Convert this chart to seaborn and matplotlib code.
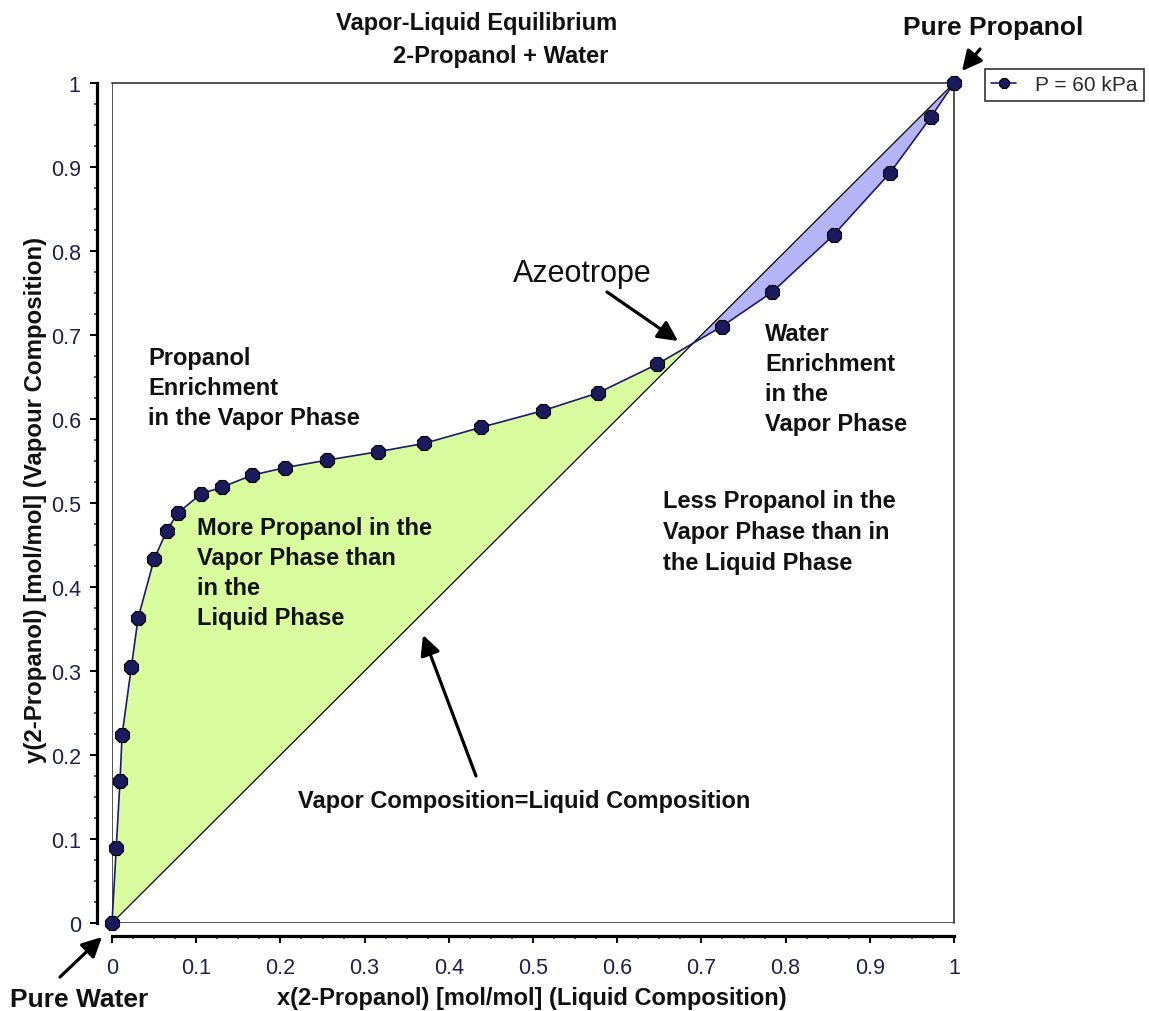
import numpy as np
import pandas as pd
import matplotlib
matplotlib.use("Agg")
import matplotlib.pyplot as plt
import seaborn as sns
from matplotlib.ticker import FixedLocator, FixedFormatter, MultipleLocator

# ---------------- data ----------------
x_liquid = [0.0, 0.005, 0.0095, 0.012, 0.023, 0.031, 0.050, 0.065, 0.078, 0.106,
            0.131, 0.166, 0.205, 0.255, 0.316, 0.371, 0.438, 0.512, 0.577, 0.647,
            0.724, 0.784, 0.857, 0.924, 0.973, 1.0]
y_vapor = [0.0, 0.089, 0.169, 0.224, 0.305, 0.363, 0.433, 0.467, 0.488, 0.511,
           0.519, 0.533, 0.542, 0.551, 0.561, 0.571, 0.590, 0.610, 0.631, 0.665,
           0.710, 0.751, 0.819, 0.893, 0.960, 1.0]
series_label = "P = 60 kPa"
tick_values = [0, 0.1, 0.2, 0.3, 0.4, 0.5, 0.6, 0.7, 0.8, 0.9, 1.0]
tick_labels = ["0", "0.1", "0.2", "0.3", "0.4", "0.5", "0.6", "0.7", "0.8", "0.9", "1"]
title_lines = ["Vapor-Liquid Equilibrium", "2-Propanol + Water"]
x_label = "x(2-Propanol) [mol/mol] (Liquid Composition)"
y_label = "y(2-Propanol) [mol/mol] (Vapour Composition)"

df = pd.DataFrame({"x": x_liquid, "y": y_vapor})

# ---------------- style ----------------
sns.set_theme(style="white")
plt.rcParams["font.family"] = ["Liberation Sans", "DejaVu Sans"]

W, H = 1149, 1012
fig = plt.figure(figsize=(W / 100, H / 100), dpi=100)
fig.patch.set_facecolor("white")


def P(px, py):
    return (px / W, 1 - py / H)


ax = fig.add_axes([112 / W, 1 - 924 / H, (954 - 112) / W, (924 - 84) / H])
ax.set_facecolor("white")

xa = np.array(x_liquid)
ya = np.array(y_vapor)
ax.fill_between(xa, xa, ya, where=ya >= xa, interpolate=True,
                color="#d9fc9e", lw=0, zorder=1)
ax.fill_between(xa, xa, ya, where=ya <= xa, interpolate=True,
                color="#b4b4f6", lw=0, zorder=1)
ax.plot([tick_values[0], tick_values[-1]], [tick_values[0], tick_values[-1]],
        color="black", lw=0.9, zorder=2)

navy = "#1b1b6b"
sns.lineplot(data=df, x="x", y="y", sort=False, estimator=None, ax=ax,
             color=navy, lw=1.2, marker="8", markersize=11,
             markerfacecolor="#1a1a5c", markeredgecolor="black",
             markeredgewidth=0.8, label=series_label, zorder=4, clip_on=False)

ax.set_xlim(0, 1)
ax.set_ylim(0, 1)

# frame box (thin) + offset thick axes
for side in ["top", "right"]:
    ax.spines[side].set_visible(True)
    ax.spines[side].set_color("#222222")
    ax.spines[side].set_linewidth(1.1)
ax.axvline(0, color="#222222", lw=1.1, zorder=3)
ax.axhline(0, color="#222222", lw=1.1, zorder=3)
ax.spines["left"].set_position(("outward", 11))
ax.spines["bottom"].set_position(("outward", 9.5))
for side in ["left", "bottom"]:
    ax.spines[side].set_visible(True)
    ax.spines[side].set_color("black")
    ax.spines[side].set_linewidth(2.3)

ax.xaxis.set_major_locator(FixedLocator(tick_values))
ax.yaxis.set_major_locator(FixedLocator(tick_values))
ax.xaxis.set_major_formatter(FixedFormatter(tick_labels))
ax.yaxis.set_major_formatter(FixedFormatter(tick_labels))
ax.xaxis.set_minor_locator(MultipleLocator(0.025))
ax.yaxis.set_minor_locator(MultipleLocator(0.025))
tick_col = "#1f1f4f"
ax.tick_params(which="major", direction="out", length=5, width=1.4,
               colors="black", labelcolor=tick_col, labelsize=15.5,
               bottom=True, left=True, top=False, right=False)
ax.tick_params(axis="x", which="major", pad=10)
ax.tick_params(axis="y", which="major", pad=6.5)
ax.tick_params(which="minor", direction="out", length=2.5, width=1.4,
               colors="#555555", bottom=True, left=True, top=False, right=False)
ax.grid(False)
ax.set_xlabel("")
ax.set_ylabel("")

# legend
leg = ax.legend(loc="upper left", bbox_to_anchor=P(985, 70),
                bbox_transform=fig.transFigure, frameon=True, fancybox=False,
                edgecolor="black", borderaxespad=0, handlelength=1.2,
                handletextpad=0.9, borderpad=0.3, fontsize=15, markerscale=0.75)
leg.get_frame().set_linewidth(1.2)
for t in leg.get_texts():
    t.set_color("#2a2a2a")

# ---------------- texts ----------------
def ftext(px, py, s, **kw):
    kw.setdefault("fontsize", 17)
    kw.setdefault("fontweight", "bold")
    kw.setdefault("va", "baseline")
    kw.setdefault("color", "#111111")
    fig.text(*P(px, py), s, **kw)


ftext(477, 30, title_lines[0], ha="center")
ftext(501, 63, title_lines[1], ha="center")
ftext(903, 35, "Pure Propanol", fontsize=19)
ftext(10, 1007, "Pure Water", fontsize=19)
ftext(532, 1005, x_label, ha="center")
fig.text(*P(47, 500), y_label, rotation=90, ha="right", va="center",
         fontsize=17.3, fontweight="bold", color="#111111")

for i, s in enumerate(["Propanol", "Enrichment", "in the Vapor Phase"]):
    ftext(148, 365 + 30 * i, s)
for i, s in enumerate(["More Propanol in the", "Vapor Phase than", "in the",
                       "Liquid Phase"]):
    ftext(197, 535 + 30 * i, s)
for i, s in enumerate(["Water", "Enrichment", "in the", "Vapor Phase"]):
    ftext(765, 341 + 30 * i, s)
for i, s in enumerate(["Less Propanol in the", "Vapor Phase than in",
                       "the Liquid Phase"]):
    ftext(663, 508 + 31 * i, s)
ftext(298, 808, "Vapor Composition=Liquid Composition")
ftext(513, 282, "Azeotrope", fontweight="normal", fontsize=22)

# ---------------- arrows ----------------
def arrow(tail, head):
    ax.annotate("", xy=P(*head), xycoords="figure fraction",
                xytext=P(*tail), textcoords="figure fraction",
                arrowprops=dict(arrowstyle="-|>,head_length=0.8,head_width=0.4",
                                lw=2.3, color="black", mutation_scale=15,
                                shrinkA=0, shrinkB=0),
                annotation_clip=False, zorder=6)


arrow((60, 978), (102, 938))
arrow((980, 50), (962, 72))
arrow((607, 293), (678, 342))
arrow((476, 777), (423, 636))

fig.savefig("out.png", dpi=100)
